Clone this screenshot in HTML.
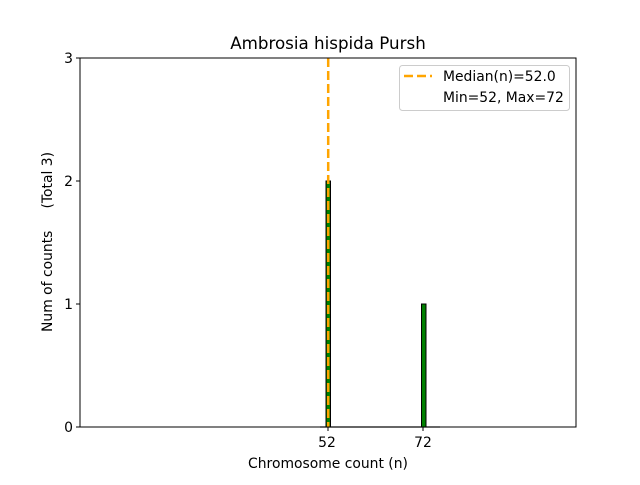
<!DOCTYPE html><html><head><style>body{margin:0;background:#fff}</style></head><body>
<svg width="640" height="480" xmlns="http://www.w3.org/2000/svg" font-family="DejaVu Sans, Liberation Sans, sans-serif">
<rect width="640" height="480" fill="#fff"/>
<line x1="320" y1="427" x2="440" y2="427" stroke="#ccc" stroke-width="2"/>
<rect x="326" y="181" width="4.5" height="246" fill="#008000" stroke="#000" stroke-width="1"/>
<rect x="421.5" y="304" width="4.5" height="123" fill="#008000" stroke="#000" stroke-width="1"/>
<line x1="328.2" y1="58" x2="328.2" y2="427" stroke="#ffa500" stroke-width="2.5" stroke-dasharray="9,4"/>
<rect x="80" y="58" width="496" height="369" fill="none" stroke="#000" stroke-width="1"/>
<g font-size="13.9" fill="#000">
<line x1="76" y1="427" x2="80" y2="427" stroke="#000"/><text x="73" y="432" text-anchor="end">0</text>
<line x1="76" y1="304" x2="80" y2="304" stroke="#000"/><text x="73" y="309" text-anchor="end">1</text>
<line x1="76" y1="181" x2="80" y2="181" stroke="#000"/><text x="73" y="186" text-anchor="end">2</text>
<line x1="76" y1="58" x2="80" y2="58" stroke="#000"/><text x="73" y="63" text-anchor="end">3</text>
<line x1="328" y1="427" x2="328" y2="431" stroke="#000"/><text x="327" y="447" text-anchor="middle">52</text>
<line x1="423" y1="427" x2="423" y2="431" stroke="#000"/><text x="423" y="447" text-anchor="middle">72</text>
<text x="328" y="468" text-anchor="middle">Chromosome count (n)</text>
<text transform="translate(52,242) rotate(-90)" text-anchor="middle" xml:space="preserve">Num of counts     (Total 3)</text>
<text x="328" y="49" text-anchor="middle" font-size="16.7">Ambrosia hispida Pursh</text>
</g>
<rect x="399.5" y="65.5" width="170" height="45" rx="3" fill="#fff" stroke="#ccc"/>
<line x1="404" y1="76" x2="432" y2="76" stroke="#ffa500" stroke-width="2.5" stroke-dasharray="9,4"/>
<text x="443" y="81" font-size="13.9">Median(n)=52.0</text>
<text x="443" y="102" font-size="13.9">Min=52, Max=72</text>
</svg>
</body></html>
